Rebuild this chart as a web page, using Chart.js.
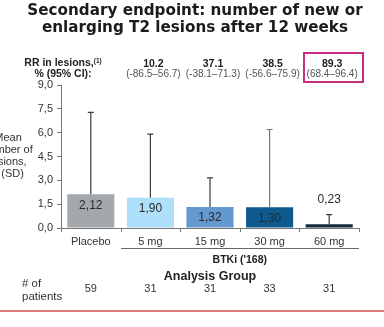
<!DOCTYPE html>
<html>
<head>
<meta charset="utf-8">
<script src="https://cdn.jsdelivr.net/npm/chart.js@4/dist/chart.umd.min.js"></script>
<style>
    body { margin: 0; width: 384px; height: 327px; overflow: hidden; background: #fff; position: relative;
           font-family: "Liberation Sans", Arial, sans-serif; color: #222; }
    #chart { position: absolute; left: 0; top: 0; }
    .abs { position: absolute; white-space: nowrap; }
    .title { left: 0; width: 390px; text-align: center; font-family: "DejaVu Sans", sans-serif; font-weight: bold;
             font-size: 15.2px; line-height: 17px; color: #1b1b1b; }
    .rr { font-size: 10.5px; line-height: 9px; text-align: center; width: 90px; }
    .rr b { color: #222; }
    .rr span { color: #555; font-size: 10px; }
    .ylab { left: -32px; width: 80px; top: 131px; text-align: center; font-size: 11px; line-height: 12px; color: #333; }
    .foot { font-size: 11px; color: #333; text-align: center; width: 60px; }
</style>
</head>
<body>
<canvas id="chart" width="384" height="327"></canvas>
<div class="abs title" style="top:2px">Secondary endpoint: number of new or</div>
<div class="abs title" style="top:19px">enlarging T2 lesions after 12 weeks</div>
<div class="abs" style="left:13px;width:100px;top:58px;text-align:center;font-size:10.5px;line-height:9.5px;font-weight:bold;color:#222">RR in lesions,<span style="font-size:6.5px;position:relative;top:-3px">(1)</span><br>% (95% CI):</div>
<div id="magenta" class="abs" style="left:303px;top:52px;width:57px;height:27px;border:2px solid #c62f82"></div>
<div class="abs ylab">Mean<br>number of<br>lesions,<br>n (SD)</div>
<div id="overlay"></div>
<script>
const categories = ['Placebo', '5 mg', '15 mg', '30 mg', '60 mg'];
const meanLesions = [2.12, 1.90, 1.32, 1.30, 0.23];
const sdLesions = [5.16, 4.01, 1.84, 4.90, 0.61];
const barColors = ['#a3a8ac', '#aee0fb', '#6399d0', '#0e5a8e', '#0f2a3d'];
const yTickLabels = ['0,0', '1,5', '3,0', '4,5', '6,0', '7,5', '9,0'];
const rrValues = ['10.2', '37.1', '38.5', '89.3'];
const rrCI = ['(-86.5\u201356.7)', '(-38.1\u201371.3)', '(-56.6\u201375.9)', '(68.4\u201396.4)'];
const patients = [59, 31, 31, 33, 31];

const fmt = v => v.toFixed(2).replace('.', ',');

const errorBars = {
    id: 'errorBars',
    afterDatasetsDraw(chart) {
        const { ctx, scales: { x, y }, chartArea } = chart;
        const meta = chart.getDatasetMeta(0);
        ctx.save();

        // short tick marks between the categories
        const half = (x.getPixelForValue(1) - x.getPixelForValue(0)) / 2;
        ctx.strokeStyle = '#777';
        ctx.lineWidth = 1;
        ctx.beginPath();
        for (let i = 0; i <= categories.length; i++) {
            const px = Math.round(x.getPixelForValue(0) - half + i * 2 * half) + 0.5;
            ctx.moveTo(px, chartArea.bottom);
            ctx.lineTo(px, chartArea.bottom + 4);
        }
        ctx.stroke();

        meta.data.forEach((bar, i) => {
            const top = y.getPixelForValue(meanLesions[i] + sdLesions[i]);
            ctx.strokeStyle = i === 3 ? '#777' : '#3a3a3a';
            ctx.lineWidth = 1.2;
            ctx.beginPath();
            ctx.moveTo(bar.x, bar.y);
            ctx.lineTo(bar.x, top);
            ctx.moveTo(bar.x - 3, top);
            ctx.lineTo(bar.x + 3, top);
            ctx.stroke();

            ctx.fillStyle = '#2a2a2a';
            ctx.font = '12px "Liberation Sans", Arial, sans-serif';
            ctx.textAlign = 'center';
            ctx.textBaseline = 'middle';
            const h = bar.base - bar.y;
            if (h > 20) {
                ctx.fillText(fmt(meanLesions[i]), bar.x, bar.y + 11);
            } else {
                ctx.fillText(fmt(meanLesions[i]), bar.x, top - 15);
            }
        });
        ctx.restore();
    }
};

const chart = new Chart(document.getElementById('chart'), {
    type: 'bar',
    data: {
        labels: categories,
        datasets: [{
            data: meanLesions,
            backgroundColor: barColors,
            borderWidth: 0,
            barPercentage: 0.79,
            categoryPercentage: 1
        }]
    },
    options: {
        responsive: false,
        animation: false,
        layout: { padding: { top: 85, left: 0, right: 25, bottom: 77 } },
        plugins: { legend: { display: false }, tooltip: { enabled: false } },
        scales: {
            x: {
                afterFit: s => { s.height = 22; },
                grid: { display: false, drawTicks: false },
                border: { color: '#777', width: 1 },
                ticks: { color: '#333', padding: 7, font: { size: 11, family: '"Liberation Sans", Arial' } }
            },
            y: {
                min: 0,
                max: 9,
                afterFit: s => { s.width = 61; },
                afterBuildTicks: s => { s.ticks = yTickLabels.map((t, i) => ({ value: i * 1.5 })); },
                grid: { drawOnChartArea: false, tickLength: 4, color: '#777' },
                border: { color: '#777', width: 1 },
                ticks: {
                    color: '#333', padding: 4,
                    font: { size: 11, family: '"Liberation Sans", Arial' },
                    callback: (v, i) => yTickLabels[i]
                }
            }
        }
    },
    plugins: [errorBars]
});

// text rows placed under / above the categories
const overlay = document.getElementById('overlay');
const xs = chart.scales.x;
const add = (html, cls, left, top, style) => {
    const d = document.createElement('div');
    d.className = 'abs ' + cls;
    d.innerHTML = html;
    d.style.left = left + 'px';
    d.style.top = top + 'px';
    if (style) d.style.cssText += style;
    overlay.appendChild(d);
};

rrValues.forEach((v, i) => {
    const cx = xs.getPixelForValue(i + 1) + 3;
    add('<b>' + v + '</b><br><span>' + rrCI[i] + '</span>', 'rr', cx - 45, 58, 'line-height:10px');
});

patients.forEach((n, i) => {
    add(String(n), 'foot', xs.getPixelForValue(i) - 30, 282);
});

const half = (xs.getPixelForValue(1) - xs.getPixelForValue(0)) / 2;
const lineL = xs.getPixelForValue(1) - half;
const lineR = xs.getPixelForValue(4) + half;
add('', 'line', lineL, 248, 'width:' + (lineR - lineL) + 'px;height:0;border-top:1.5px solid #666');
add('BTKi (\'168)', 'foot', (lineL + lineR) / 2 - 60, 253, 'width:120px;font-weight:bold;font-size:10.5px;color:#222');
add('Analysis Group', 'foot', (chart.chartArea.left + chart.chartArea.right) / 2 - 60, 269, 'width:120px;font-weight:bold;font-size:12.5px;color:#222');
add('# of<br>patients', 'foot', 22, 277, 'text-align:left;line-height:13px;font-size:11.5px');
add('', 'line', 0, 310, 'width:384px;height:0;border-top:2px solid #e27a7a');
</script>
</body>
</html>
